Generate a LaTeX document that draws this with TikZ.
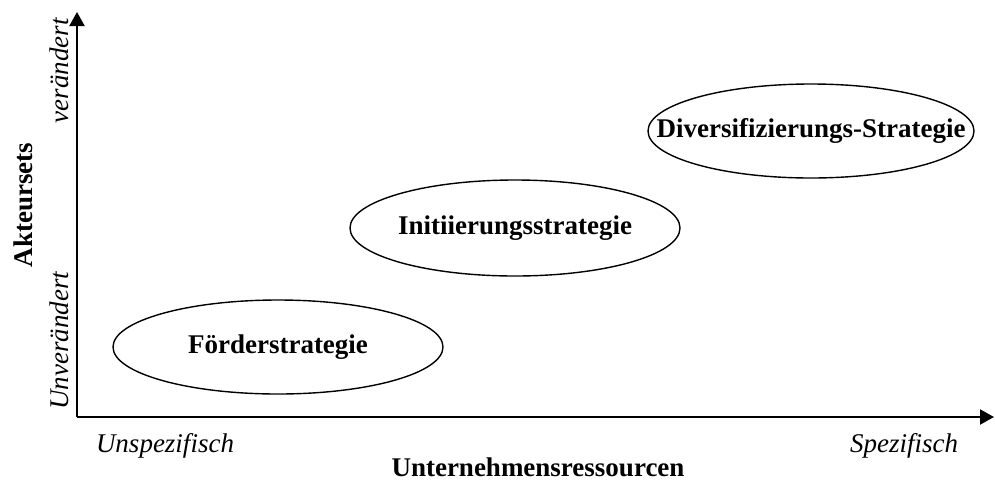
\documentclass[tikz,border=0pt]{standalone}
\usepackage{fontspec}
\setmainfont{Liberation Serif}
\usetikzlibrary{arrows.meta}
\tikzstyle{ax}=[line width=1pt, -{Triangle[length=7pt, width=7.5pt]}]
\tikzstyle{strat}=[font=\fontsize{13.5}{16}\selectfont\bfseries, inner sep=0pt]
\tikzstyle{oval}=[line width=0.7pt]
\tikzstyle{lbl}=[font=\fontsize{13.5}{16}\selectfont\itshape, inner sep=0pt]
\tikzstyle{ttl}=[font=\fontsize{13.5}{16}\selectfont\bfseries, inner sep=0pt]

\begin{document}
\begin{tikzpicture}[x=0.5pt, y=0.5pt]

\useasboundingbox (0,0) rectangle (995,479);

\coordinate (o) at (77,62);
\coordinate (ytip) at (77,467);
\coordinate (xtip) at (994,62);

\draw[ax] (o)--(ytip);
\draw[ax] (o)--(xtip);

\node[strat] (foerder) at (278,132) {Förderstrategie};
\node[strat] (init) at (515,251) {Initiierungsstrategie};
\node[strat] (divers) at (811,348) {Diversifizierungs-Strategie};

\draw[oval] (foerder.center) ellipse [x radius=165, y radius=47];
\draw[oval] (init.center) ellipse [x radius=165, y radius=48];
\draw[oval] (divers.center) ellipse [x radius=163, y radius=47];

\node[lbl, anchor=base] (unspez) at (165,27) {Unspezifisch};
\node[lbl, anchor=base] (spez) at (904,27) {Spezifisch};
\node[ttl, anchor=base] (ressourcen) at (538,3) {Unternehmensressourcen};

\node[lbl, rotate=90, anchor=base west] (unver) at (68,69) {Unverändert};
\node[lbl, rotate=90, anchor=base east] (ver) at (68,461) {verändert};
\node[ttl, rotate=90, anchor=base] (akteure) at (33,274) {Akteursets};

\end{tikzpicture}
\end{document}
